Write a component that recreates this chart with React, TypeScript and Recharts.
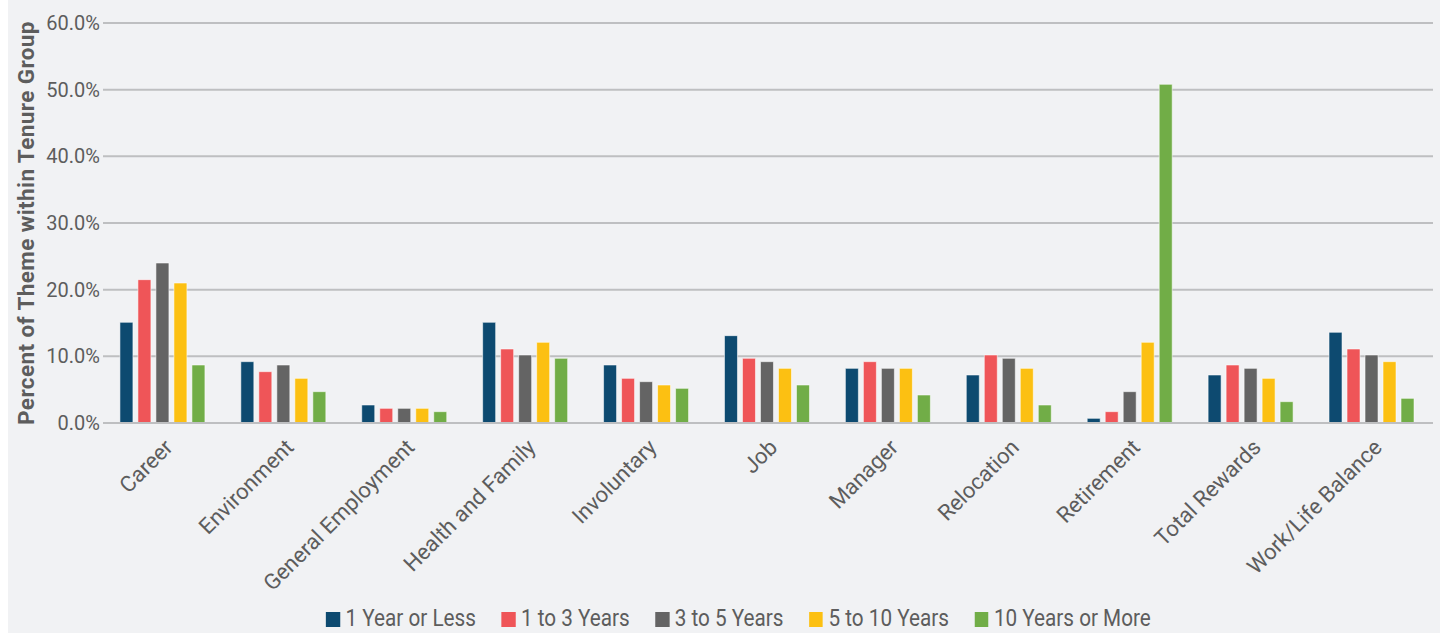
import { BarChart, Bar, XAxis, YAxis, CartesianGrid, Legend } from "recharts"

const themes = [
  "Career", "Environment", "General Employment", "Health and Family", "Involuntary",
  "Job", "Manager", "Relocation", "Retirement", "Total Rewards", "Work/Life Balance",
]

const yearOrLess = [15.1, 9.2, 2.7, 15.1, 8.7, 13.1, 8.2, 7.2, 0.7, 7.2, 13.6]
const oneToThree = [21.5, 7.7, 2.2, 11.1, 6.7, 9.7, 9.2, 10.2, 1.7, 8.7, 11.1]
const threeToFive = [24.0, 8.7, 2.2, 10.2, 6.2, 9.2, 8.2, 9.7, 4.7, 8.2, 10.2]
const fiveToTen = [21.0, 6.7, 2.2, 12.1, 5.7, 8.2, 8.2, 8.2, 12.1, 6.7, 9.2]
const tenOrMore = [8.7, 4.7, 1.7, 9.7, 5.2, 5.7, 4.2, 2.7, 50.8, 3.2, 3.7]

const yTicks = [0, 10, 20, 30, 40, 50, 60]

const series = [
  { key: "a", name: "1 Year or Less", color: "#0D4A70", values: yearOrLess },
  { key: "b", name: "1 to 3 Years", color: "#EF5558", values: oneToThree },
  { key: "c", name: "3 to 5 Years", color: "#646464", values: threeToFive },
  { key: "d", name: "5 to 10 Years", color: "#FCC012", values: fiveToTen },
  { key: "e", name: "10 Years or More", color: "#71AD47", values: tenOrMore },
]

const data = themes.map((t, i) => {
  const row: Record<string, string | number> = { theme: t }
  series.forEach((s) => (row[s.key] = s.values[i]))
  return row
})

const FONT = "Roboto, 'Liberation Sans', sans-serif"
const TEXT = "#5d5d5d"

function XTick(props: any) {
  const { x, y, payload } = props
  return (
    <g transform={`translate(${x + 5},${y + 12})`}>
      <text textAnchor="end" transform="rotate(-45)" fontSize={22} fontFamily={FONT} fill={TEXT} dy={8}>
        {payload.value}
      </text>
    </g>
  )
}

function LegendBox() {
  return (
    <div
      style={{
        boxSizing: "border-box",
        height: 36,
        paddingTop: 6,
        display: "flex",
        justifyContent: "center",
        transform: "translateX(18px) scaleX(0.9)",
        fontFamily: FONT,
        fontSize: 23,
        color: TEXT,
      }}
    >
      {series.map((s, i) => (
        <div
          key={s.key}
          style={{ display: "flex", alignItems: "center", marginRight: i < series.length - 1 ? 28.5 : 0 }}
        >
          <span style={{ width: 15.5, height: 15, background: s.color, marginRight: 6, marginTop: 3 }} />
          <span>{s.name}</span>
        </div>
      ))}
    </div>
  )
}

export default function App() {
  return (
    <div style={{ position: "absolute", left: 8, top: 0, width: 1432, height: 633, background: "#F1F2F4" }}>
      <BarChart
        width={1432}
        height={633}
        data={data}
        margin={{ top: 23, right: 7, left: 0, bottom: 0 }}
        barCategoryGap="14%"
        barGap={5}
      >
        <CartesianGrid vertical={false} stroke="#BEBFC1" strokeWidth={2} />
        <XAxis
          dataKey="theme"
          interval={0}
          height={174}
          tick={<XTick />}
          tickLine={false}
          axisLine={{ stroke: "#BEBFC1", strokeWidth: 2 }}
        />
        <YAxis
          width={95}
          domain={[0, 60]}
          ticks={yTicks}
          tickFormatter={(v: number) => `${v.toFixed(1)}%`}
          axisLine={false}
          tickLine={false}
          tickSize={0}
          tickMargin={3}
          tick={{ fontSize: 20, fontFamily: FONT, fill: TEXT }}
          label={{
            value: "Percent of Theme within Tenure Group",
            angle: -90,
            position: "insideLeft",
            offset: 18,
            style: {
              textAnchor: "middle",
              fontSize: 22.5,
              fontWeight: 700,
              letterSpacing: 0.4,
              fontFamily: FONT,
              fill: TEXT,
            },
          }}
        />
        <Legend verticalAlign="bottom" content={<LegendBox />} wrapperStyle={{ bottom: 0 }} />
        {series.map((s) => (
          <Bar
            key={s.key}
            dataKey={s.key}
            name={s.name}
            fill={s.color}
            stroke="#ffffff"
            strokeOpacity={0.55}
            strokeWidth={1}
            isAnimationActive={false}
          />
        ))}
      </BarChart>
    </div>
  )
}
